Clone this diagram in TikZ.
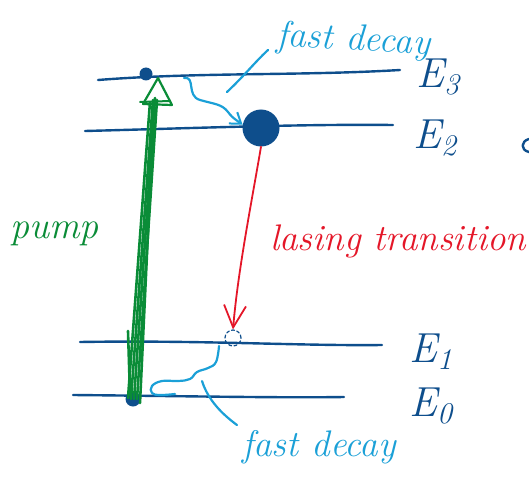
\documentclass[tikz,border=0pt]{standalone}
\usetikzlibrary{arrows.meta,calc}
\definecolor{lvl}{RGB}{14,78,140}
\definecolor{fd}{RGB}{27,160,215}
\definecolor{pg}{RGB}{10,140,55}
\definecolor{lr}{RGB}{228,22,40}
\newcommand{\lsub}[1]{\raisebox{-7pt}{\fontsize{30}{30}\selectfont #1}}
\begin{document}
\begin{tikzpicture}[x=1pt,y=-1pt,line cap=round,line join=round,
  level/.style={lvl,line width=2.4pt},
  dotnode/.style={circle,fill=lvl,inner sep=0pt},
  hand/.style={inner sep=0pt,anchor=base west,font=\fontsize{#1}{#1}\selectfont\itshape},
  hand/.default=36,
  decay/.style={fd,line width=2.2pt},
  pumpline/.style={pg,line width=2.6pt}]
\useasboundingbox (0,0) rectangle (529,481);
% energy levels
\coordinate (e3l) at (98,80);  \coordinate (e3r) at (400,70);
\coordinate (e2l) at (85,131); \coordinate (e2r) at (393,125);
\coordinate (e1l) at (80,342); \coordinate (e1r) at (382,345);
\coordinate (e0l) at (73,395); \coordinate (e0r) at (344,397);
\draw[level] (e3l) .. controls (200,72) and (300,76) .. (e3r);
\draw[level] (e2l) .. controls (200,128) and (300,124) .. (e2r);
\draw[level] (e1l) .. controls (200,340) and (300,346) .. (e1r);
\draw[level] (e0l) .. controls (180,396) and (280,398) .. (e0r);
% level labels
\node[hand=42,text=lvl] (E3) at (416,88) {E\lsub{3}};
\node[hand=42,text=lvl] (E2) at (413,149) {E\lsub{2}};
\node[hand=42,text=lvl] (E1) at (409,362) {E\lsub{1}};
\node[hand=42,text=lvl] (E0) at (409,416) {E\lsub{0}};
\draw[level] (529,139) .. controls (521,141) and (520,150) .. (529,152);
% populations
\node[dotnode,minimum size=13pt] (d3) at (146,74) {};
\node[dotnode,minimum size=37pt] (d2) at (261,128) {};
\node[circle,draw=lvl,dashed,dash pattern=on 3pt off 2.5pt,line width=1.2pt,minimum size=16pt,inner sep=0pt] (d1) at (233,338) {};
\node[dotnode,minimum size=15pt] (d0) at (133,399) {};
% pump
\draw[pumpline] ($(d0)+(-5,-1)$) -- ($(d3)+(4,28)$);
\draw[pumpline] ($(d0)+(-2,0)$) -- ($(d3)+(7,26)$);
\draw[pumpline] ($(d0)+(1,0)$) -- ($(d3)+(9,24)$);
\draw[pumpline] ($(d0)+(4,0)$) -- ($(d3)+(11,26)$);
\draw[pumpline] ($(d0)+(7,4)$) -- ($(d3)+(8,30)$);
\draw[pumpline] ($(d0)+(-5,-68)$) -- ($(d0)+(-3,-4)$);
\draw[pg,line width=2.2pt] ($(d3)+(-3,30)$) -- ($(d3)+(12,4)$) -- ($(d3)+(26,31)$) -- cycle;
\draw[pg,line width=2pt] ($(d3)+(-6,28)$) -- ($(d3)+(24,27)$);
\node[hand=38,text=pg] (pump) at (10,238) {pump};
% lasing transition
\draw[lr,line width=1.8pt,-{Straight Barb[length=22pt,width=22pt,line width=1.8pt]}]
  (d2.south) .. controls (252,200) and (238,270) .. (d1.north);
\node[hand=37,text=lr] (lase) at (270,250) {lasing transition};
% fast decay E3 -> E2
\coordinate (w3) at (184,78);
\draw[decay,-{Straight Barb[length=10pt,width=14pt,line width=2pt]}]
  (w3) .. controls (196,76) and (186,96) .. (200,100)
  .. controls (214,104) and (222,104) .. (228,112)
  .. controls (232,117) .. (d2.170);
\coordinate (l3a) at (227,92); \coordinate (l3b) at (268,50);
\draw[decay] (l3a) .. controls (245,75) and (255,62) .. (l3b);
\node[hand=37,text=fd,rotate=-3] (fd3) at (276,46) {fast decay};
% fast decay E1 -> E0
\draw[decay] plot[smooth,tension=0.7] coordinates
  {(219,346) (216,362) (208,368) (197,372) (190,379) (178,381) (162,381) (152,386) (152,393) (160,395) (175,394)};
\coordinate (l0a) at (202,381); \coordinate (l0b) at (237,425);
\draw[decay] (l0a) .. controls (208,400) and (222,414) .. (l0b);
\node[hand=37,text=fd] (fd0) at (242,456) {fast decay};
\end{tikzpicture}
\end{document}
